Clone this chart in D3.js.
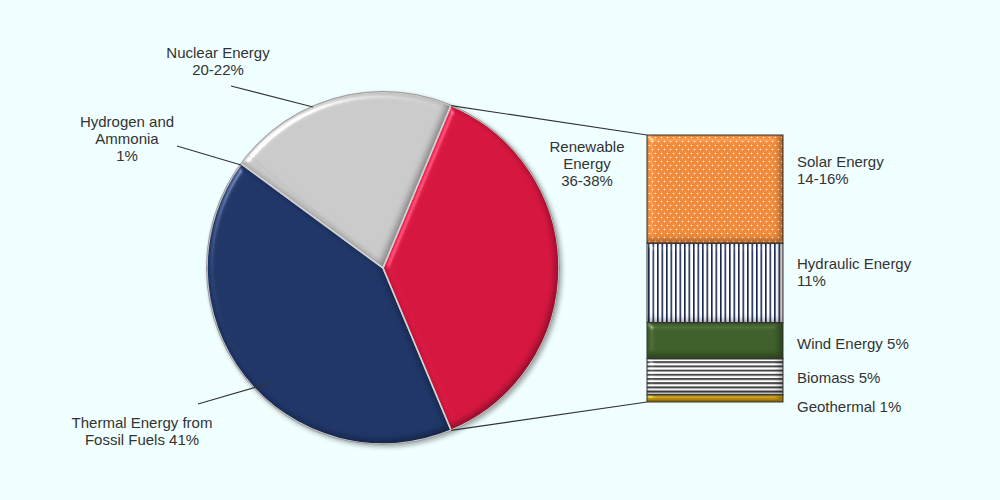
<!DOCTYPE html>
<html><head><meta charset="utf-8">
<script src="https://cdn.jsdelivr.net/npm/d3@7/dist/d3.min.js"></script>
<style>
html,body{margin:0;padding:0;background:#F0FFFF;}
svg{display:block;font-family:"Liberation Sans","Noto Sans",sans-serif;}
</style></head>
<body>
<svg id="chart" width="1000" height="500"></svg>
<script>
// ---- data ----
const pieCategories = ["Renewable Energy", "Thermal Energy from Fossil Fuels", "Hydrogen and Ammonia", "Nuclear Energy"];
const pieValues = [37, 41, 1, 20];
const pieLabelLines = [["Renewable", "Energy", "36-38%"], ["Thermal Energy from", "Fossil Fuels 41%"], ["Hydrogen and", "Ammonia", "1%"], ["Nuclear Energy", "20-22%"]];
const barCategories = ["Solar Energy", "Hydraulic Energy", "Wind Energy", "Biomass", "Geothermal"];
const barValues = [15, 11, 5, 5, 1];
const barLabelLines = [["Solar Energy", "14-16%"], ["Hydraulic Energy", "11%"], ["Wind Energy 5%"], ["Biomass 5%"], ["Geothermal 1%"]];

// ---- layout / style ----
const cx = 383, cy = 268, R = 176;
const startDeg = 22.7;
const pieColors = ["#D4163F", "#1F3566", "#C9C9C9", "#C9C9C9"];
const pieBevelGroup = [0, 1, 2, 2]; // slices sharing one bevel surface
const pieLabelLayout = [
  {x: 587, y: 152, anchor: "middle", line: null},
  {x: 142, y: 428, anchor: "middle", line: [[198, 404], [270, 383]]},
  {x: 127, y: 127, anchor: "middle", line: [[177, 146], [241, 165]]},
  {x: 218, y: 58, anchor: "middle", line: [[231, 86], [313, 107]]}
];
const barLeft = 647, barRight = 783, barTop = 135, barBottom = 402;
const barFills = ["#F08A3A", "#FFFFFF", "#3E5E2A", "#FFFFFF", "#D9A514"];
const barPatterns = ["dots", "vlines", null, "hlines", null];
const barLabelX = 797;
const barLabelY = [167, 269, 349, 383, 412];
const lineH = 17;
const textColor = "#333333";

const svg = d3.select("#chart");
const defs = svg.append("defs");

// bevel filter
const f = defs.append("filter").attr("id", "bevel").attr("color-interpolation-filters", "sRGB")
  .attr("x", "-10%").attr("y", "-10%").attr("width", "120%").attr("height", "120%");
f.append("feGaussianBlur").attr("in", "SourceAlpha").attr("stdDeviation", 3).attr("result", "blur");
const sp = f.append("feSpecularLighting").attr("in", "blur").attr("surfaceScale", 4).attr("specularConstant", 0.6)
  .attr("specularExponent", 30).attr("lighting-color", "#ffffff").attr("result", "spec");
sp.append("feDistantLight").attr("azimuth", 225).attr("elevation", 35);
f.append("feComposite").attr("in", "spec").attr("in2", "SourceAlpha").attr("operator", "in").attr("result", "specOut");
f.append("feOffset").attr("in", "blur").attr("dx", -3).attr("dy", -3).attr("result", "off");
f.append("feComposite").attr("in", "SourceAlpha").attr("in2", "off").attr("operator", "out").attr("result", "inner");
f.append("feFlood").attr("flood-color", "#000").attr("flood-opacity", 0.35).attr("result", "fl");
f.append("feComposite").attr("in", "fl").attr("in2", "inner").attr("operator", "in").attr("result", "shadow");
f.append("feComposite").attr("in", "SourceGraphic").attr("in2", "specOut").attr("operator", "arithmetic")
  .attr("k1", 0).attr("k2", 1).attr("k3", 0.6).attr("k4", 0).attr("result", "lit");
const m = f.append("feMerge");
m.append("feMergeNode").attr("in", "lit");
m.append("feMergeNode").attr("in", "shadow");

// drop shadow
const ds = defs.append("filter").attr("id", "drop").attr("color-interpolation-filters", "sRGB")
  .attr("x", "-20%").attr("y", "-20%").attr("width", "140%").attr("height", "140%");
ds.append("feGaussianBlur").attr("in", "SourceAlpha").attr("stdDeviation", 2.5).attr("result", "b");
ds.append("feOffset").attr("in", "b").attr("dx", 1.5).attr("dy", 2).attr("result", "o");
ds.append("feComponentTransfer").attr("in", "o").attr("result", "o2").append("feFuncA").attr("type", "linear").attr("slope", 0.35);
const dm = ds.append("feMerge");
dm.append("feMergeNode").attr("in", "o2");
dm.append("feMergeNode").attr("in", "SourceGraphic");

// patterns
const pd = defs.append("pattern").attr("id", "dots").attr("patternUnits", "userSpaceOnUse").attr("width", 6).attr("height", 8);
pd.append("circle").attr("cx", 1.5).attr("cy", 1.5).attr("r", 0.8).attr("fill", "#fff");
pd.append("circle").attr("cx", 4.5).attr("cy", 5.5).attr("r", 0.8).attr("fill", "#fff");
const pv = defs.append("pattern").attr("id", "vlines").attr("patternUnits", "userSpaceOnUse").attr("width", 4.5).attr("height", 10);
pv.append("rect").attr("x", 0).attr("y", 0).attr("width", 1.6).attr("height", 10).attr("fill", "#14244F");
const ph = defs.append("pattern").attr("id", "hlines").attr("patternUnits", "userSpaceOnUse").attr("width", 10).attr("height", 4.2);
ph.append("rect").attr("x", 0).attr("y", 0).attr("width", 10).attr("height", 2).attr("fill", "#444");

// ---- pie ----
const pie = d3.pie().sort(null).value(d => d).startAngle(startDeg * Math.PI / 180).endAngle(startDeg * Math.PI / 180 + 2 * Math.PI);
const arcs = pie(pieValues);
const arc = d3.arc().innerRadius(0).outerRadius(R);
const pg = svg.append("g").attr("transform", `translate(${cx},${cy})`);
const pieWrap = pg.append("g").attr("filter", "url(#drop)");
const groupIds = Array.from(new Set(pieBevelGroup));
const bevelGroups = pieWrap.selectAll("g.bg").data(groupIds).join("g").attr("class", "bg").attr("filter", "url(#bevel)");
bevelGroups.each(function(gid) {
  d3.select(this).selectAll("path").data(arcs.filter((d, i) => pieBevelGroup[i] === gid)).join("path")
    .attr("d", arc)
    .attr("fill", d => pieColors[d.index]);
});
// slice edges (between bevel groups)
const groupArcs = groupIds.map(gid => {
  const members = arcs.filter((d, i) => pieBevelGroup[i] === gid);
  return {startAngle: d3.min(members, d => d.startAngle), endAngle: d3.max(members, d => d.endAngle)};
});
pieWrap.selectAll("path.edge").data(groupArcs).join("path")
  .attr("class", "edge")
  .attr("d", arc)
  .attr("fill", "none")
  .attr("stroke", "#D0D0D0")
  .attr("stroke-width", 1.5);
pg.append("circle").attr("r", R + 0.5).attr("fill", "none").attr("stroke", "#9a9a9a").attr("stroke-width", 1);

// ---- bar of pie ----
const yScale = d3.scaleLinear().domain([0, d3.sum(barValues)]).range([barBottom, barTop]);
const xScale = d3.scaleBand().domain(["stack"]).range([barLeft, barRight]).padding(0);
const stackData = [];
{
  let acc = 0;
  for (let i = barValues.length - 1; i >= 0; i--) {
    stackData.push({i, y0: acc, y1: acc + barValues[i]});
    acc += barValues[i];
  }
}
const bg = svg.append("g");
const segs = bg.selectAll("g.seg").data(stackData).join("g").attr("class", "seg").attr("filter", "url(#bevel)");
segs.append("rect")
  .attr("x", xScale("stack")).attr("width", xScale.bandwidth())
  .attr("y", d => yScale(d.y1)).attr("height", d => yScale(d.y0) - yScale(d.y1))
  .attr("fill", d => barFills[d.i]);
segs.filter(d => barPatterns[d.i]).append("rect")
  .attr("x", xScale("stack")).attr("width", xScale.bandwidth())
  .attr("y", d => yScale(d.y1)).attr("height", d => yScale(d.y0) - yScale(d.y1))
  .attr("fill", d => `url(#${barPatterns[d.i]})`);
bg.selectAll("rect.outline").data(stackData).join("rect").attr("class", "outline")
  .attr("x", xScale("stack")).attr("width", xScale.bandwidth())
  .attr("y", d => yScale(d.y1)).attr("height", d => yScale(d.y0) - yScale(d.y1))
  .attr("fill", "none").attr("stroke", "#333").attr("stroke-width", 1);

// connector lines
const ren = arcs[0];
const ptOnArc = a => [cx + R * Math.sin(a), cy - R * Math.cos(a)];
const p1 = ptOnArc(ren.startAngle), p2 = ptOnArc(ren.endAngle);
svg.append("line").attr("x1", p1[0]).attr("y1", p1[1]).attr("x2", barLeft).attr("y2", yScale(d3.sum(barValues)))
  .attr("stroke", "#333").attr("stroke-width", 1.2);
svg.append("line").attr("x1", p2[0]).attr("y1", p2[1]).attr("x2", barLeft).attr("y2", yScale(0))
  .attr("stroke", "#333").attr("stroke-width", 1.2);

// ---- labels ----
const lg = svg.append("g").attr("font-size", 15).attr("fill", textColor);
pieLabelLines.forEach((lines, i) => {
  const L = pieLabelLayout[i];
  if (L.line) {
    svg.append("line").attr("x1", L.line[0][0]).attr("y1", L.line[0][1]).attr("x2", L.line[1][0]).attr("y2", L.line[1][1])
      .attr("stroke", "#333").attr("stroke-width", 1.1);
  }
  const t = lg.append("text").attr("text-anchor", L.anchor);
  lines.forEach((s, j) => t.append("tspan").attr("x", L.x).attr("y", L.y + j * lineH).text(s));
});
barLabelLines.forEach((lines, i) => {
  const t = lg.append("text").attr("text-anchor", "start");
  lines.forEach((s, j) => t.append("tspan").attr("x", barLabelX).attr("y", barLabelY[i] + j * lineH).text(s));
});
</script>
</body></html>
